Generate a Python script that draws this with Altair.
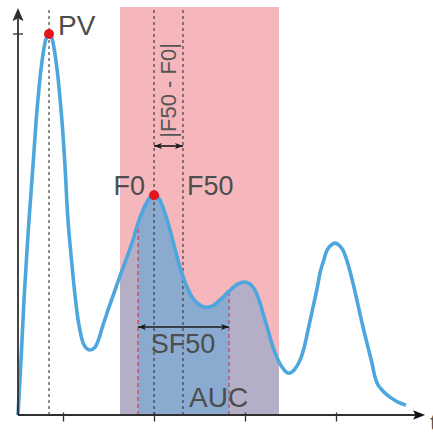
import altair as alt
import pandas as pd

# ---- data (time in arbitrary units, signal in % of PV) ----
curve_t = [0, 0.33, 0.66, 0.99, 1.21, 1.65, 1.98, 2.31, 2.53, 2.86,
           3.08, 3.41, 3.74, 3.96, 4.29, 4.51, 4.84, 5.16, 5.49, 5.93,
           6.26, 6.70, 7.25, 7.80, 8.46, 9.34, 10.0, 10.66, 11.21, 11.98,
           12.64, 13.19, 13.74, 14.18, 14.62, 14.95, 15.27, 15.60, 16.15, 16.70,
           17.25, 17.80, 18.57, 19.12, 19.67, 20.55, 21.32, 22.20, 23.19, 24.18,
           24.95, 25.49, 26.04, 26.48, 26.92, 27.47, 28.02, 28.68, 29.01, 29.45,
           29.89, 30.44, 30.99, 31.43, 31.87, 32.42, 32.86, 33.19, 33.63, 33.96,
           34.40, 34.84, 35.27, 35.71, 36.26, 36.81, 37.36, 37.91, 38.46, 38.90,
           39.23, 39.56, 40.22, 40.88, 41.76, 42.64]
curve_v = [0, 14.4, 30.2, 43.3, 51.2, 65.6, 76.9, 85.8, 90.8, 96.3,
           98.7, 100, 98.7, 96.3, 90.8, 85.8, 76.9, 65.6, 51.2, 39.4,
           31.5, 23.6, 18.4, 17.1, 17.8, 23.6, 28.3, 32.8, 36.5, 41.5,
           45.9, 50.4, 53.8, 55.9, 57.5, 57.7, 57.5, 56.4, 53.0, 48.6,
           43.6, 38.8, 33.6, 31.0, 29.4, 28.3, 28.6, 30.2, 32.5, 34.4,
           34.9, 34.4, 32.8, 30.2, 26.8, 22.3, 17.8, 13.9, 12.6, 11.3,
           11.0, 12.1, 14.4, 17.6, 22.3, 28.3, 33.1, 37.3, 40.9, 43.3,
           44.6, 45.1, 44.6, 43.3, 39.6, 34.6, 28.9, 23.1, 17.8, 13.6,
           10.0, 7.9, 6.0, 4.7, 3.4, 2.6]

pv_t, pv_v = 3.41, 100.0
f0_t, f0_v = 14.95, 57.7
f50_t = 18.13
band_start, band_end, band_top = 11.21, 28.68, 107.1
sf50_start, sf50_end = 13.19, 23.19
sf50_start_v, sf50_end_v = 50.4, 32.5
diff_arrow_v = 70.6
sf50_arrow_v = 23.1
x_ticks = [5, 15, 25, 35]
y_ticks = [100]
x_axis_len, x_arrow_tip = 44.0, 44.73
y_axis_len, y_arrow_tip = 104.0, 106.8

labels_left = ["PV", "F50", "AUC", "t"]
labels_left_t = [4.40, 18.57, 18.79, 45.30]
labels_left_v = [99.7, 57.7, 2.1, -3.9]
labels_left_fs = [28, 27, 28, 22]
label_f0 = "F0"
label_f0_pos = (13.96, 57.7)
label_sf50 = "SF50"
label_sf50_pos = (18.13, 16.3)
label_diff = "|F50 - F0|"
label_diff_pos = (16.59, 85.2)

X_DOMAIN = [-1.978, 45.604]
Y_DOMAIN = [-4.987, 108.924]

PINK = "#f5b7bc"
PURPLE = "#b4afc7"
BLUE_FILL = "#8aaacf"
LINE = "#4da6dd"
RED = "#e3161d"
AXIS = "#2f2f2f"
TEXT = "#4d4d4d"
FONT = "Liberation Sans"
INTERP = "catmull-rom"

xs = alt.Scale(domain=X_DOMAIN, nice=False, zero=False)
ys = alt.Scale(domain=Y_DOMAIN, nice=False, zero=False)


def X(f):
    return alt.X(f, type="quantitative", scale=xs, axis=None)


def Y(f):
    return alt.Y(f, type="quantitative", scale=ys, axis=None)


curve = pd.DataFrame({"t": curve_t, "v": curve_v})

band = alt.Chart(pd.DataFrame({"x0": [band_start], "x1": [band_end], "y0": [0], "y1": [band_top]})).mark_rect(
    color=PINK).encode(x=X("x0"), x2="x1", y=Y("y0"), y2="y1")

auc = alt.Chart(curve).transform_filter(
    alt.FieldRangePredicate(field="t", range=[band_start, band_end])
).mark_area(color=PURPLE, opacity=1, interpolate=INTERP).encode(
    x=X("t"), y=Y("v"), y2=alt.Y2Datum(0))

sf = alt.Chart(curve).transform_filter(
    alt.FieldRangePredicate(field="t", range=[sf50_start, sf50_end])
).mark_area(color=BLUE_FILL, opacity=1, interpolate=INTERP).encode(
    x=X("t"), y=Y("v"), y2=alt.Y2Datum(0))

vlines = alt.Chart(pd.DataFrame({"t": [pv_t, f0_t, f50_t], "y0": [0, 0, 0],
                                 "y1": [band_top] * 3})).mark_rule(
    color="#333333", strokeWidth=1.1, strokeDash=[3, 3]).encode(x=X("t"), y=Y("y0"), y2="y1")

red_l = alt.Chart(pd.DataFrame({"t": [sf50_start], "y0": [0], "y1": [sf50_start_v]})).mark_rule(
    color="#e8262e", strokeWidth=1.1, strokeDash=[4, 3]).encode(x=X("t"), y=Y("y0"), y2="y1")
red_r = alt.Chart(pd.DataFrame({"t": [sf50_end], "y0": [0], "y1": [sf50_end_v]})).mark_rule(
    color="#c43a55", strokeWidth=1.1, strokeDash=[4, 3]).encode(x=X("t"), y=Y("y0"), y2="y1")

line = alt.Chart(curve).mark_line(color=LINE, strokeWidth=3.6, interpolate=INTERP).encode(
    x=X("t"), y=Y("v"))

x_axis = alt.Chart(pd.DataFrame({"x0": [0], "x1": [x_axis_len], "y": [0]})).mark_rule(
    color=AXIS, strokeWidth=1.8).encode(x=X("x0"), x2="x1", y=Y("y"))
y_axis = alt.Chart(pd.DataFrame({"x": [0], "y0": [0], "y1": [y_axis_len]})).mark_rule(
    color=AXIS, strokeWidth=1.8).encode(x=X("x"), y=Y("y0"), y2="y1")

xt = alt.Chart(pd.DataFrame({"t": x_ticks, "y": [0] * len(x_ticks)})).mark_tick(
    orient="vertical", size=9, thickness=1.3, color=AXIS, yOffset=2, opacity=1).encode(x=X("t"), y=Y("y"))
yt = alt.Chart(pd.DataFrame({"x": [0] * len(y_ticks), "v": y_ticks})).mark_tick(
    orient="horizontal", size=10, thickness=1.3, color=AXIS, opacity=1).encode(x=X("x"), y=Y("v"))

UP = "M0,0L0.85,2L0,1.6L-0.85,2Z"
RIGHT_BIG = "M0,0L-2,-0.8L-1.6,0L-2,0.8Z"
RIGHT = "M0,0L-2,-0.75L-1.5,0L-2,0.75Z"
LEFT = "M0,0L2,-0.75L1.5,0L2,0.75Z"

y_head = alt.Chart(pd.DataFrame({"x": [0], "y": [y_arrow_tip]})).mark_point(
    shape=UP, size=169, filled=True, color=AXIS, opacity=1, strokeWidth=0).encode(x=X("x"), y=Y("y"))
x_head = alt.Chart(pd.DataFrame({"x": [x_arrow_tip], "y": [0]})).mark_point(
    shape=RIGHT_BIG, size=144, filled=True, color="#111", opacity=1, strokeWidth=0).encode(x=X("x"), y=Y("y"))

arr = pd.DataFrame({"x0": [f0_t, sf50_start], "x1": [f50_t, sf50_end], "y": [diff_arrow_v, sf50_arrow_v]})
arr_line = alt.Chart(arr).mark_rule(color="#1a1a1a", strokeWidth=1.6).encode(x=X("x0"), x2="x1", y=Y("y"))
arr_l = alt.Chart(arr).mark_point(shape=LEFT, size=64, filled=True, color="#1a1a1a", opacity=1,
                                  strokeWidth=0).encode(x=X("x0"), y=Y("y"))
arr_r = alt.Chart(arr).mark_point(shape=RIGHT, size=64, filled=True, color="#1a1a1a", opacity=1,
                                  strokeWidth=0).encode(x=X("x1"), y=Y("y"))

dots = alt.Chart(pd.DataFrame({"t": [pv_t, f0_t], "v": [pv_v, f0_v]})).mark_circle(
    size=100, color=RED, opacity=1).encode(x=X("t"), y=Y("v"))

txt_left = alt.Chart(pd.DataFrame({"label": labels_left, "t": labels_left_t, "v": labels_left_v,
                                   "fs": labels_left_fs})).mark_text(
    align="left", baseline="alphabetic", font=FONT, color=TEXT).encode(
    x=X("t"), y=Y("v"), text="label:N", size=alt.Size("fs:Q", scale=None))
txt_f0 = alt.Chart(pd.DataFrame({"label": [label_f0], "t": [label_f0_pos[0]], "v": [label_f0_pos[1]]})).mark_text(
    align="right", baseline="alphabetic", font=FONT, color=TEXT, fontSize=27).encode(
    x=X("t"), y=Y("v"), text="label:N")
txt_sf = alt.Chart(pd.DataFrame({"label": [label_sf50], "t": [label_sf50_pos[0]], "v": [label_sf50_pos[1]]})).mark_text(
    align="center", baseline="alphabetic", font=FONT, color=TEXT, fontSize=27).encode(
    x=X("t"), y=Y("v"), text="label:N")
txt_diff = alt.Chart(pd.DataFrame({"label": [label_diff], "t": [label_diff_pos[0]], "v": [label_diff_pos[1]]})).mark_text(
    align="center", baseline="middle", font=FONT, color="#555555", fontSize=22, angle=270).encode(
    x=X("t"), y=Y("v"), text="label:N")

chart = alt.layer(
    band, auc, sf, vlines, red_l, red_r, line,
    x_axis, y_axis, xt, yt, y_head, x_head,
    arr_line, arr_l, arr_r, dots,
    txt_left, txt_f0, txt_sf, txt_diff
).properties(
    width=433, height=434, padding=0, autosize="none", background="white"
).configure_view(stroke=None)

chart.save("out.html", embed_options={"renderer": "svg", "actions": False})
